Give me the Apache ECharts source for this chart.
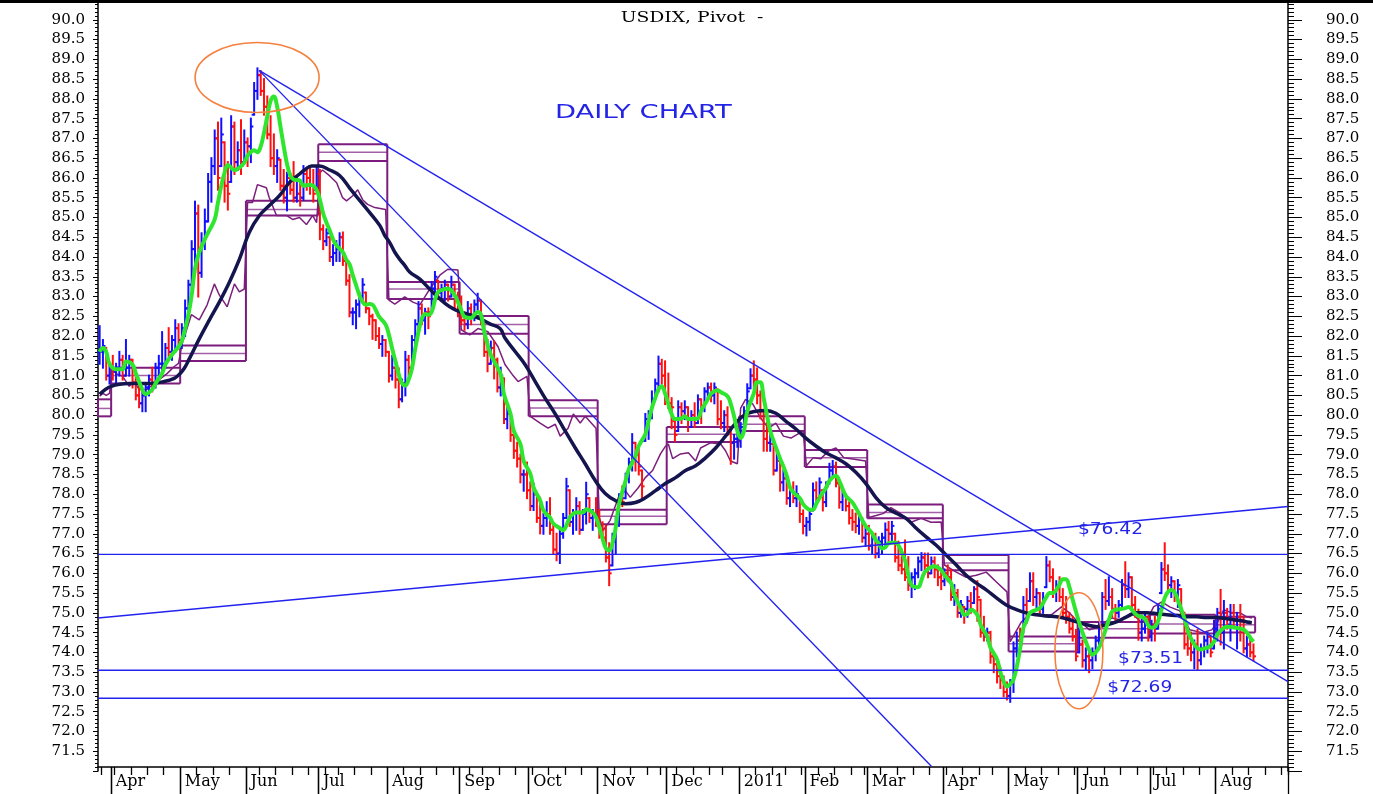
<!DOCTYPE html>
<html>
<head>
<meta charset="utf-8">
<title>USDIX, Pivot</title>
<script src="https://cdn.jsdelivr.net/npm/echarts@6.0.0/dist/echarts.min.js"></script>
<style>
  html, body { margin: 0; padding: 0; background: #fff; }
  #chart { width: 1373px; height: 794px; }
</style>
</head>
<body>
<div id="chart"></div>
<script>
// trading calendar: first bar, holidays, total slots (last 10 are empty)
const startDate = '2010-03-26'
const slotCount = 362
const holidays = ['2010-04-02', '2010-05-31', '2010-07-05', '2010-09-06', '2010-11-25', '2010-12-24',
  '2011-01-17', '2011-02-21', '2011-04-22', '2011-05-30', '2011-07-04']
const monthNames = ['Jan', 'Feb', 'Mar', 'Apr', 'May', 'Jun', 'Jul', 'Aug', 'Sep', 'Oct', 'Nov', 'Dec']

// daily bars, one line per month (Mar 2010 .. Aug 2011)
const highs = [
  82.25, 81.9, 81.7, 81.3,
  81.5, 81.3, 81.6, 81.5, 81.9, 81.5, 81.4, 81.0, 80.8, 80.6, 80.8, 81.0, 81.2, 81.3, 81.5, 82.1, 81.8, 82.2, 82.0, 82.4, 82.3,
  82.3, 82.9, 83.4, 84.4, 85.4, 85.3, 84.6, 85.2, 86.1, 86.5, 87.2, 87.4, 87.5, 86.9, 86.4, 87.56, 87.4, 86.9, 87.46, 87.2,
  87.0, 87.5, 88.4, 88.77, 88.7, 88.5, 88.06, 87.56, 87.1, 86.7, 86.46, 86.2, 86.13, 86.1, 86.4, 86.0, 85.9, 86.3, 86.2, 86.3, 86.2, 86.3,
  86.2, 84.8, 84.7, 84.5, 84.3, 84.4, 84.6, 84.62, 83.9, 83.54, 82.7, 82.9, 83.1, 83.44, 83.1, 82.7, 82.54, 82.4, 82.2, 82.0, 81.9,
  81.6, 81.5, 81.2, 81.18, 80.9, 81.6, 81.5, 82.0, 82.4, 82.86, 82.8, 82.69, 82.7, 83.37, 83.62, 83.4, 83.3, 83.4, 83.3, 83.5, 83.3, 83.1,
  83.0, 82.6, 82.86, 82.8, 82.9, 83.07, 82.9, 82.36, 81.9, 81.86, 81.86, 81.43, 81.2, 80.93, 80.28, 80.03, 79.6, 79.3, 79.0, 78.6, 78.8,
  78.3, 78.27, 78.0, 77.91, 77.5, 77.8, 77.9, 77.26, 77.0, 77.16, 77.5, 78.39, 78.1, 77.6, 77.9, 77.8, 77.6, 78.29, 77.9, 77.6, 77.9,
  77.6, 77.29, 77.2, 76.76, 77.0, 77.41, 78.0, 78.2, 78.52, 78.9, 79.52, 79.3, 79.2, 78.6, 80.03, 80.1, 80.6, 80.9, 81.48, 81.4, 81.36,
  81.05, 80.43, 79.85, 80.35, 80.3, 80.35, 80.2, 80.1, 80.3, 80.5, 80.4, 80.68, 80.8, 80.8, 80.8, 80.65, 80.35, 80.1, 80.2, 79.6, 79.5, 79.7,
  79.8, 80.2, 80.78, 81.16, 81.36, 81.18, 80.6, 80.1, 79.8, 79.6, 79.27, 79.1, 78.84, 78.6, 78.47, 78.2, 78.3, 78.2, 77.9, 77.59,
  77.4, 77.6, 78.27, 78.3, 78.4, 78.1, 78.3, 78.77, 78.84, 78.8, 78.27, 78.1, 78.0, 77.79, 77.6, 77.51, 77.5, 77.4, 77.2,
  77.2, 77.0, 77.0, 76.91, 77.0, 77.26, 77.3, 77.3, 77.0, 76.8, 76.6, 76.83, 76.41, 76.0, 76.1, 76.4, 76.51, 76.5, 76.5, 76.4, 76.4, 76.2, 76.1,
  76.1, 76.2, 76.08, 75.7, 75.58, 75.3, 75.15, 75.4, 75.5, 75.65, 75.8, 75.33, 74.9, 74.6, 74.52, 74.0, 73.82, 73.6, 73.39, 73.24,
  73.3, 74.25, 74.5, 74.6, 75.4, 75.6, 76.0, 76.0, 75.6, 75.5, 75.5, 76.41, 76.3, 76.1, 75.8, 75.9, 75.6, 75.4, 75.0, 74.9, 74.57,
  74.6, 74.3, 74.1, 74.0, 74.1, 74.4, 74.75, 75.5, 75.83, 75.9, 75.6, 75.2, 75.3, 75.83, 76.28, 76.0, 75.9, 75.4, 75.08, 74.9, 75.0, 74.9,
  74.8, 74.9, 75.2, 76.26, 76.76, 76.2, 75.9, 75.8, 75.83, 75.6, 75.0, 74.6, 74.5, 74.3, 74.57, 74.2, 74.4, 74.5, 74.4, 74.8,
  75.1, 75.58, 75.3, 75.1, 75.2, 75.2, 75.0, 75.2, 74.9, 74.4, 74.4, 74.2
]
const lows = [
  81.3, 81.2, 80.9, 80.8,
  80.9, 80.8, 81.0, 80.9, 81.0, 81.0, 80.7, 80.4, 80.2, 80.1, 80.1, 80.5, 80.6, 80.7, 81.0, 81.1, 81.2, 81.5, 81.4, 81.6, 81.7,
  81.7, 82.0, 82.5, 83.2, 83.8, 83.0, 83.5, 84.2, 84.9, 85.4, 86.1, 85.7, 86.3, 85.4, 85.2, 85.9, 86.1, 86.2, 86.1, 86.4,
  86.3, 86.4, 87.6, 88.0, 88.1, 87.6, 87.0, 86.3, 86.1, 85.9, 85.7, 85.38, 85.18, 85.6, 85.4, 85.4, 85.3, 85.45, 85.7, 85.6, 85.4, 85.7,
  84.45, 84.2, 84.3, 83.9, 83.8, 83.9, 83.9, 83.8, 83.3, 82.5, 82.3, 82.2, 82.5, 82.86, 82.6, 82.3, 81.93, 81.9, 81.7, 81.5, 81.5,
  80.85, 80.9, 80.7, 80.2, 80.35, 80.5, 81.0, 81.1, 81.8, 82.19, 82.3, 82.06, 82.2, 82.6, 83.0, 82.95, 82.9, 82.9, 82.9, 83.0, 82.7, 82.5,
  82.3, 82.16, 82.2, 82.3, 82.4, 82.61, 82.3, 81.5, 81.11, 81.3, 80.93, 80.6, 80.5, 79.8, 79.67, 79.35, 78.92, 78.7, 78.3, 78.09, 77.9,
  77.6, 77.6, 77.3, 77.01, 77.0, 77.2, 77.0, 76.5, 76.33, 76.26, 76.9, 77.4, 77.2, 77.0, 77.1, 77.0, 77.1, 77.26, 77.3, 77.1, 77.2,
  76.9, 76.83, 76.3, 75.7, 76.2, 76.51, 77.2, 77.7, 77.9, 78.3, 78.6, 78.6, 78.5, 77.91, 79.35, 79.4, 79.92, 80.4, 80.6, 80.8, 80.28,
  80.18, 79.67, 79.35, 79.6, 79.8, 79.9, 79.6, 79.7, 79.7, 79.8, 79.8, 80.1, 80.43, 80.35, 80.3, 79.77, 79.67, 79.6, 79.5, 78.77, 78.9, 79.2,
  79.2, 79.6, 80.03, 80.68, 80.68, 80.3, 79.92, 79.1, 79.1, 79.1, 78.5, 78.6, 78.09, 78.1, 77.76, 77.7, 77.8, 77.7, 77.3, 77.01,
  76.96, 77.1, 77.59, 77.8, 77.9, 77.59, 77.7, 78.27, 78.42, 78.2, 77.66, 77.6, 77.59, 77.26, 77.1, 77.04, 77.0, 76.8, 76.7,
  76.6, 76.5, 76.4, 76.41, 76.5, 76.66, 76.8, 76.8, 76.3, 76.08, 76.0, 75.83, 75.58, 75.4, 75.6, 75.9, 76.08, 76.0, 75.9, 76.0, 75.9, 75.7, 75.6,
  75.7, 75.8, 75.33, 75.2, 74.9, 74.9, 74.75, 74.9, 75.0, 75.25, 74.8, 74.4, 74.3, 74.3, 73.74, 73.5, 73.24, 73.1, 72.89, 72.81,
  72.75, 73.0, 73.9, 74.1, 74.5, 74.75, 75.3, 75.2, 75.1, 75.0, 75.0, 75.65, 75.8, 75.4, 75.3, 75.3, 74.9, 74.75, 74.5, 74.3, 73.8,
  74.0, 73.64, 73.57, 73.5, 73.6, 73.8, 74.1, 74.7, 75.1, 75.2, 74.9, 74.8, 74.9, 75.15, 75.4, 75.4, 75.1, 74.9, 74.32, 74.3, 74.5, 74.3,
  74.3, 74.3, 74.6, 75.5, 75.83, 75.6, 75.4, 75.3, 75.15, 74.9, 74.1, 73.94, 73.8, 73.6, 73.57, 73.7, 73.9, 74.0, 73.9, 74.1,
  74.3, 74.2, 74.1, 74.6, 74.3, 74.7, 74.1, 74.3, 74.0, 73.9, 73.9, 73.8
]
const closes = [
  81.6, 81.75, 81.0, 81.2,
  81.1, 81.2, 81.4, 81.0, 81.2, 81.4, 80.8, 80.5, 80.3, 80.5, 80.7, 80.9, 80.8, 81.2, 81.3, 81.3, 81.7, 81.6, 81.9, 82.2, 81.9,
  82.2, 82.7, 83.3, 84.2, 85.1, 83.6, 84.4, 84.9, 85.9, 86.3, 87.0, 86.0, 87.1, 85.8, 85.6, 87.3, 86.4, 86.7, 86.3, 86.9,
  86.8, 87.3, 88.2, 88.6, 88.2, 87.8, 87.1, 86.5, 86.3, 86.5, 85.8, 85.5, 86.0, 85.7, 85.5, 85.6, 85.5, 86.1, 86.0, 85.8, 85.6, 86.1,
  84.7, 84.4, 84.6, 84.0, 84.1, 84.2, 84.5, 83.9, 83.4, 82.6, 82.6, 82.8, 83.0, 83.3, 82.7, 82.5, 82.4, 82.0, 81.8, 81.9, 81.6,
  81.0, 81.2, 80.9, 80.4, 80.8, 81.4, 81.2, 81.9, 82.3, 82.7, 82.4, 82.6, 82.5, 83.2, 83.5, 83.1, 83.2, 83.3, 83.0, 83.3, 82.9, 82.7,
  82.4, 82.3, 82.7, 82.5, 82.8, 82.9, 82.4, 81.6, 81.3, 81.7, 81.4, 80.7, 81.0, 79.9, 80.1, 79.5, 79.1, 78.9, 78.5, 78.5, 78.1,
  77.7, 78.0, 77.4, 77.2, 77.4, 77.5, 77.1, 76.6, 76.5, 77.0, 77.4, 78.2, 77.3, 77.5, 77.7, 77.1, 77.5, 78.0, 77.4, 77.5, 77.3,
  77.0, 76.9, 76.4, 76.0, 76.8, 77.3, 77.9, 77.8, 78.4, 78.8, 79.3, 79.0, 78.7, 78.2, 79.9, 80.0, 80.4, 80.8, 81.3, 81.0, 80.4,
  80.3, 80.2, 79.5, 80.2, 80.1, 80.2, 79.7, 80.0, 79.8, 80.4, 80.2, 80.6, 80.7, 80.5, 80.7, 79.9, 79.8, 80.0, 79.6, 79.3, 79.4, 79.6,
  79.7, 80.1, 80.6, 81.0, 80.9, 80.5, 80.1, 79.4, 79.3, 79.5, 78.6, 79.0, 78.3, 78.4, 77.9, 78.1, 77.9, 78.0, 77.5, 77.2,
  77.3, 77.5, 78.1, 77.9, 78.3, 77.8, 78.2, 78.6, 78.7, 78.3, 77.8, 78.0, 77.7, 77.4, 77.3, 77.2, 77.4, 76.9, 77.0,
  76.7, 76.9, 76.5, 76.8, 76.9, 77.1, 77.0, 77.2, 76.4, 76.2, 76.1, 75.9, 75.7, 75.9, 76.0, 76.3, 76.4, 76.2, 76.0, 76.3, 76.1, 75.9, 75.8,
  76.0, 75.9, 75.4, 75.5, 75.0, 75.2, 75.1, 75.3, 75.1, 75.6, 75.4, 74.5, 74.4, 74.5, 73.9, 73.7, 73.4, 73.3, 73.0, 72.9,
  73.2, 74.1, 74.3, 74.2, 75.2, 74.9, 75.8, 75.4, 75.5, 75.1, 75.3, 76.2, 75.9, 75.5, 75.6, 75.4, 75.0, 74.9, 74.6, 74.4, 73.9,
  74.2, 73.8, 73.9, 73.8, 74.0, 74.3, 74.6, 75.4, 75.3, 75.4, 75.1, 75.0, 75.2, 75.7, 75.6, 75.9, 75.2, 75.0, 74.5, 74.6, 74.9, 74.4,
  74.7, 74.6, 75.1, 76.1, 76.0, 75.7, 75.8, 75.4, 75.7, 75.0, 74.2, 74.1, 74.0, 74.2, 73.8, 74.1, 74.3, 74.4, 74.0, 74.6,
  75.0, 74.5, 75.0, 74.7, 75.0, 74.8, 74.9, 74.8, 74.1, 74.2, 74.0, 73.9
]

// green fast average [bar, value]
const fastLine = [
  [0, 81.6], [1, 81.7], [2, 81.6], [3, 81.3], [5, 81.16], [7, 81.16], [8, 81.36], [10, 81.28], [11, 81.06], [13, 80.65],
  [14, 80.53], [16, 80.65], [17, 80.8], [19, 81.06], [20, 81.28], [22, 81.53], [24, 81.73], [25, 81.88], [26, 82.19], [27, 82.54],
  [28, 83.04], [29, 83.7], [30, 84.05], [32, 84.45], [33, 84.62], [35, 84.95], [36, 85.38], [37, 85.8], [38, 86.13], [39, 86.33],
  [41, 86.2], [42, 86.23], [44, 86.38], [45, 86.56], [47, 86.7], [48, 86.65], [49, 86.8], [50, 87.14], [51, 87.56], [52, 87.95],
  [53, 88.06], [54, 87.8], [55, 87.3], [56, 86.8], [57, 86.35], [58, 86.06], [59, 85.96], [61, 85.93], [62, 85.8], [64, 85.83],
  [65, 85.8], [66, 85.7], [67, 85.45], [68, 85.1], [69, 84.87], [70, 84.67], [71, 84.45], [72, 84.3], [74, 84.12], [75, 83.94],
  [76, 83.82], [77, 83.54], [78, 83.29], [79, 83.04], [80, 82.86], [81, 82.79], [82, 82.81], [83, 82.79], [84, 82.66], [85, 82.49],
  [87, 82.29], [88, 82.03], [89, 81.68], [90, 81.36], [91, 81.03], [92, 80.8], [93, 80.75], [94, 80.9], [95, 81.18], [96, 81.68],
  [97, 82.11], [98, 82.44], [99, 82.56], [100, 82.54], [101, 82.61], [102, 82.91], [103, 83.12], [105, 83.19], [106, 83.2], [108, 83.04],
  [109, 82.86], [110, 82.66], [111, 82.49], [113, 82.46], [114, 82.54], [115, 82.61], [116, 82.54], [117, 82.11], [118, 81.78], [119, 81.53],
  [120, 81.36], [122, 81.03], [123, 80.53], [125, 80.03], [126, 79.6], [128, 79.27], [129, 78.84], [131, 78.52], [132, 78.17], [134, 77.84],
  [135, 77.59], [137, 77.41], [138, 77.26], [140, 77.14], [141, 77.09], [142, 77.21], [143, 77.41], [145, 77.54], [147, 77.54], [148, 77.62],
  [150, 77.54], [151, 77.41], [152, 77.16], [153, 76.88], [154, 76.63], [155, 76.58], [156, 76.76], [157, 77.16], [158, 77.75], [160, 78.34],
  [161, 78.64], [162, 78.79], [163, 78.97], [164, 79.22], [166, 79.52], [167, 79.85], [168, 80.18], [169, 80.43], [170, 80.65], [171, 80.73],
  [172, 80.55], [173, 80.28], [174, 80.03], [175, 79.9], [177, 79.92], [178, 79.97], [179, 79.9], [180, 79.9], [182, 79.92], [183, 80.12],
  [185, 80.4], [186, 80.55], [188, 80.63], [189, 80.58], [191, 80.48], [192, 80.28], [193, 79.97], [194, 79.6], [195, 79.42], [196, 79.6],
  [197, 80.1], [199, 80.55], [200, 80.83], [201, 80.83], [202, 80.43], [203, 80.0], [204, 79.6], [206, 79.12], [207, 78.9], [208, 78.7],
  [209, 78.47], [210, 78.17], [211, 78.05], [213, 77.9], [214, 77.75], [215, 77.66], [216, 77.61], [217, 77.61], [218, 77.76], [219, 77.91],
  [220, 78.04], [221, 78.17], [222, 78.34], [224, 78.47], [225, 78.34], [226, 78.14], [227, 77.96], [229, 77.79], [230, 77.66], [231, 77.51],
  [232, 77.34], [233, 77.2], [235, 77.01], [236, 76.85], [237, 76.76], [238, 76.63], [239, 76.66], [240, 76.76], [242, 76.78], [243, 76.71],
  [244, 76.53], [245, 76.33], [246, 75.95], [247, 75.7], [249, 75.65], [250, 75.83], [251, 76.03], [253, 76.16], [254, 76.18], [256, 76.08],
  [257, 75.95], [259, 75.75], [260, 75.45], [262, 75.12], [263, 74.95], [264, 74.97], [265, 75.08], [267, 74.95], [268, 74.7], [270, 74.4],
  [271, 74.12], [273, 73.82], [274, 73.5], [275, 73.27], [276, 73.14], [277, 73.19], [278, 73.32], [279, 73.64], [280, 74.1], [281, 74.62],
  [282, 74.8], [283, 75.0], [285, 75.08], [286, 75.12], [287, 75.25], [288, 75.4], [289, 75.5], [290, 75.5], [291, 75.58], [292, 75.72],
  [293, 75.85], [294, 75.85], [295, 75.65], [296, 75.33], [297, 75.03], [298, 74.75], [299, 74.5], [300, 74.27], [301, 74.07], [302, 73.94],
  [303, 74.0], [304, 74.12], [305, 74.32], [306, 74.57], [307, 74.82], [308, 75.03], [309, 75.08], [311, 75.1], [312, 75.12], [313, 75.15],
  [314, 75.08], [315, 74.98], [316, 74.92], [317, 74.9], [318, 74.85], [319, 74.68], [320, 74.62], [321, 74.65], [322, 74.8], [323, 75.08],
  [324, 75.38], [325, 75.53], [326, 75.58], [327, 75.52], [328, 75.32], [329, 75.1], [330, 74.85], [331, 74.55], [332, 74.35], [333, 74.2],
  [334, 74.1], [335, 74.07], [336, 74.1], [337, 74.12], [338, 74.17], [339, 74.27], [340, 74.45], [341, 74.55], [342, 74.62], [343, 74.65],
  [344, 74.65], [345, 74.63], [346, 74.62], [347, 74.6], [348, 74.58], [349, 74.5], [350, 74.37], [351, 74.27]
]

// dark slow average [bar, value]
const slowLine = [
  [0, 80.53], [3.5, 80.73], [9, 80.8], [15, 80.8], [19.6, 80.85], [22.7, 80.93], [24.2, 81.03], [25.7, 81.18], [27.3, 81.43], [30.3, 81.93],
  [33.4, 82.41], [36.4, 82.86], [39.5, 83.37], [42.5, 83.94], [45.5, 84.62], [48.6, 85.05], [51.6, 85.3], [54.7, 85.55], [57.7, 85.88], [60.8, 86.1],
  [62.3, 86.2], [64.5, 86.3], [66.9, 86.3], [70, 86.2], [73, 86.06], [76, 85.75], [79.1, 85.43], [82.1, 85.13], [85.2, 84.8], [86.7, 84.55],
  [88.2, 84.37], [89.8, 84.12], [91.3, 83.94], [92.8, 83.79], [94.3, 83.62], [97.4, 83.44], [100.4, 83.19], [103.5, 82.94], [106.5, 82.74], [109.6, 82.61],
  [112.6, 82.54], [115.7, 82.44], [118.7, 82.31], [121.8, 82.19], [123.3, 81.95], [126.4, 81.61], [129.4, 81.28], [132.5, 80.85], [135.5, 80.43], [138.6, 80.03],
  [141.6, 79.6], [144.7, 79.17], [147.7, 78.77], [150.8, 78.34], [153.8, 78.02], [156.9, 77.84], [159.9, 77.76], [163, 77.79], [166, 77.91], [169.1, 78.09],
  [172.1, 78.27], [175.2, 78.42], [178.2, 78.6], [181.3, 78.72], [184.3, 78.92], [187.4, 79.17], [190.4, 79.47], [193.5, 79.8], [196.5, 80.02], [199.6, 80.1],
  [202.6, 80.12], [205.7, 80.05], [208.7, 79.85], [211.8, 79.65], [214.8, 79.42], [217.9, 79.22], [220.9, 79.05], [224, 78.92], [227, 78.77], [230.1, 78.55],
  [233.1, 78.27], [236.2, 77.91], [239.2, 77.66], [242.3, 77.52], [245.3, 77.39], [248.4, 77.14], [251.4, 76.92], [254.5, 76.71], [257.5, 76.46], [260.6, 76.21],
  [263.6, 75.95], [266.7, 75.75], [269.7, 75.58], [272.8, 75.38], [275.8, 75.2], [278.9, 75.08], [281.9, 75.0], [285, 74.95], [288, 74.92], [291.1, 74.9],
  [294.1, 74.85], [297.2, 74.77], [300.2, 74.7], [303.3, 74.65], [306.3, 74.7], [309.3, 74.77], [312.4, 74.9], [315.5, 75.0], [318.5, 75.0], [321.6, 74.98],
  [324.6, 74.95], [327.7, 74.93], [330.7, 74.9], [333.8, 74.9], [336.8, 74.88], [339.9, 74.88], [342.9, 74.85], [346, 74.82], [349, 74.77], [350.5, 74.75]
]

// thin purple pivot line [bar, value]
const pivotLine = [
  [0, 80.48], [1, 80.55], [2, 80.5], [3, 80.55], [4, 81.18], [5, 81.05], [7, 80.98], [9, 80.73], [10.5, 80.85], [12, 80.65],
  [14.4, 80.65], [16.6, 80.8], [18.1, 80.9], [20.5, 81.05], [22.7, 81.23], [24, 81.31],
  [25, 81.78], [27.9, 82.54], [30.3, 82.41], [32.7, 82.79], [34.9, 83.32], [36.4, 83.04], [38.8, 82.74], [41, 83.32], [42.5, 83.12], [44, 83.19],
  [45, 85.38], [46.5, 85.38], [48, 85.83], [50.7, 85.75], [51.6, 85.5], [53.8, 85.05], [56.8, 85.05], [58.7, 84.95], [60.8, 85.0], [62.9, 84.82], [64.8, 85.05], [66, 84.87],
  [67, 86.13], [67.8, 86.2], [70, 86.05], [72.1, 85.88], [73.9, 85.5], [75.1, 85.42], [77, 85.55], [78.5, 85.7], [80, 85.45], [81.5, 85.33], [83.7, 85.25], [87, 85.2],
  [88, 82.91], [89.8, 82.81], [92.8, 82.99], [95.3, 82.86], [97.4, 82.79], [100.4, 83.19], [103.5, 83.54], [105.9, 83.69], [109, 83.67],
  [110, 82.16], [112.6, 82.03], [115.1, 82.19], [118.1, 82.11], [121.2, 81.73], [123.3, 81.28], [125.5, 81.03], [127.3, 80.85], [130, 80.98],
  [131, 79.97], [134, 79.8], [136.4, 79.67], [138.6, 79.77], [140.1, 79.47], [142.5, 79.67], [144.1, 80.03], [146.2, 79.8], [147.7, 79.97], [151, 79.67],
  [152, 77.41], [153.2, 77.09], [155.3, 77.34], [157.8, 77.92], [159.9, 78.09], [161.4, 77.92], [163.9, 78.17], [166, 78.42], [168.2, 78.6], [170.6, 79.02], [172, 79.2],
  [173, 79.27], [174.3, 78.9], [176.7, 79.02], [179.1, 79.05], [181.3, 78.84], [182.8, 79.17], [185.8, 79.3], [188.9, 79.27], [190.4, 79.1], [191.9, 78.84], [194, 78.77],
  [195, 80.18], [196.5, 80.4], [198.7, 80.28], [201.1, 79.92], [203.5, 79.67], [205.7, 79.8], [208, 79.47], [210.3, 79.42], [214, 79.6],
  [215, 78.72], [217, 78.92], [219.4, 78.9], [221.8, 79.1], [224, 79.17], [226.4, 78.92], [228.6, 78.9], [233, 78.84],
  [234, 77.41], [236.2, 77.46], [238.3, 77.51], [240.7, 77.66], [243.5, 77.52], [246.8, 77.29], [249.9, 77.39], [252.9, 77.29], [256, 77.3],
  [257, 76.21], [260.6, 76.03], [263.6, 75.9], [266.7, 75.95], [269.7, 76.03], [272.8, 75.78], [276, 75.53],
  [277, 74.27], [280.4, 74.77], [283.4, 75.0], [286.5, 74.95], [289.5, 74.95], [292.6, 75.15], [295, 75.0], [297, 74.82],
  [298.7, 74.75], [301.1, 74.57], [303.3, 74.62], [304.8, 74.7], [307.8, 74.87], [310.9, 74.82], [313.9, 75.0], [317, 74.75], [319.4, 74.95],
  [320.6, 75.15], [323.1, 75.28], [325.5, 75.15], [328.6, 75.05], [331.6, 74.57], [335.3, 74.5], [338.3, 74.57],
  [340, 74.75], [342, 75.08], [344.4, 75.0], [346.9, 75.0], [349, 74.9], [350.5, 74.87]
]

// monthly pivot boxes, Mar 2010 .. Aug 2011
const pivotTop = [80.4, 81.2, 81.76, 85.42, 86.85, 83.37, 82.51, 80.38, 77.61, 79.7, 79.97, 79.12, 77.74, 76.46, 74.4, 74.77, 74.95, 74.9]
const pivotMid = [80.17, 81.0, 81.56, 85.2, 86.65, 83.19, 82.29, 80.18, 77.44, 79.52, 79.77, 78.92, 77.54, 76.26, 74.22, 74.6, 74.72, 74.7]
const pivotBot = [79.97, 80.8, 81.37, 85.05, 86.43, 82.94, 82.06, 79.97, 77.24, 79.32, 79.6, 78.69, 77.39, 76.08, 74.02, 74.37, 74.48, 74.5]

// trend lines [bar, value]
const trendSteep = [[48.5, 88.72], [253, 71.12]]
const trendUpper = [[48.5, 88.72], [361.5, 73.26]]
const trendRising = [[-0.5, 74.87], [361.5, 77.69]]
const levels = [76.48, 73.55, 72.84]

// annotations
const noteText = ['$76.42', '$73.51', '$72.69']
const noteAt = [[297.6, 77.09], [309.8, 73.84], [306.5, 73.09]]
const rings = [{ at: [47.9, 88.54], rx: 62, ry: 35 }, { at: [297.9, 74.04], rx: 24, ry: 58 }]

function tradingDays() {
  const out = []
  const d = new Date(startDate + 'T00:00:00Z')
  while (out.length < slotCount) {
    const wd = d.getUTCDay()
    const s = d.toISOString().slice(0, 10)
    if (wd !== 0 && wd !== 6 && holidays.indexOf(s) < 0) out.push(s)
    d.setUTCDate(d.getUTCDate() + 1)
  }
  return out
}

const days = tradingDays()
const dow = s => new Date(s + 'T00:00:00Z').getUTCDay()
const monthStart = days.map((d, i) => i > 0 && d.slice(0, 7) !== days[i - 1].slice(0, 7))
const weekStart = days.map((d, i) => i > 0 && dow(d) < dow(days[i - 1]))
const monthEdges = []
const weekEdges = []
days.forEach((d, i) => {
  if (monthStart[i]) monthEdges.push(i - 0.5)
  else if (weekStart[i]) weekEdges.push(i - 0.5)
})
weekEdges.push(slotCount - 0.5)

const starts = [0]
for (let i = 1; i < closes.length; i++) if (monthStart[i]) starts.push(i)
const boxes = pivotTop.map((t, k) => [
  starts[k],
  k < starts.length - 1 ? starts[k + 1] - 1 : closes.length - 1,
  t, pivotMid[k], pivotBot[k],
  k ? pivotTop[k - 1] : t,
  k ? pivotBot[k - 1] : pivotBot[k],
  k === pivotTop.length - 1 ? 1 : 0
])
const bars = closes.map((c, i) => [i, i ? closes[i - 1] : c, c, lows[i], highs[i]])

const seg = (x1, y1, x2, y2, style) => ({ type: 'line', shape: { x1, y1, x2, y2 }, style })

function renderBar(params, api) {
  const i = api.value(0)
  const c = api.value(2), l = api.value(3), h = api.value(4)
  const o = Math.min(h, Math.max(l, api.value(1)))
  const top = api.coord([i, h]), bot = api.coord([i, l])
  const yo = api.coord([i, o])[1], yc = api.coord([i, c])[1]
  const color = c >= api.value(1) ? '#1010ff' : '#ff1010'
  const st = { stroke: color, lineWidth: 2 }
  return {
    type: 'group',
    children: [
      seg(top[0], top[1] - 1, bot[0], bot[1] + 1, st),
      seg(top[0] - 2.5, yo, top[0], yo, st),
      seg(top[0], yc, top[0] + 2.5, yc, st)
    ]
  }
}

function renderBox(params, api) {
  const s = api.value(0), e = api.value(1)
  const x0 = api.coord([s - 0.5, 80])[0], x1 = api.coord([e + 0.5, 80])[0]
  const y = v => api.coord([s, v])[1]
  const t = api.value(2), m = api.value(3), b = api.value(4)
  const hi = Math.max(t, api.value(5)), lo = Math.min(b, api.value(6))
  const outer = { stroke: '#7c1c7e', lineWidth: 2 }
  const inner = { stroke: '#a261a6', lineWidth: 1.5 }
  const children = [
    seg(x0, y(t), x1, y(t), outer),
    seg(x0, y(m), x1, y(m), inner),
    seg(x0, y(b), x1, y(b), outer),
    seg(x0, y(hi), x0, y(lo), outer)
  ]
  if (api.value(7)) children.push(seg(x1, y(t), x1, y(b), outer))
  return { type: 'group', children }
}

const serif = 'DejaVu Serif'
const yAxisBase = {
  type: 'value',
  min: 71,
  max: 90.5,
  interval: 0.5,
  splitLine: { show: false },
  axisLine: { show: true, onZero: false, lineStyle: { color: '#000', width: 1.5 } },
  axisLabel: {
    color: '#000',
    fontFamily: serif,
    fontSize: 15,
    showMinLabel: false,
    showMaxLabel: false,
    formatter: v => v.toFixed(1)
  }
}
const tickAxis = (values, length) => ({
  type: 'value',
  min: -0.5,
  max: slotCount - 0.5,
  position: 'bottom',
  offset: -4,
  axisLine: { show: false, onZero: false },
  axisLabel: { show: false },
  splitLine: { show: false },
  axisTick: { show: true, customValues: values, length, lineStyle: { color: '#000', width: 1.3 } }
})
const lineSeries = (data, color, width, z, extra) => Object.assign({
  type: 'line',
  xAxisIndex: 2,
  yAxisIndex: 0,
  data,
  showSymbol: false,
  symbol: 'none',
  silent: true,
  z,
  lineStyle: { color, width }
}, extra || {})

const chart = echarts.init(document.getElementById('chart'))
chart.setOption({
  animation: false,
  backgroundColor: '#fff',
  grid: { left: 98, right: 85, top: -3.87, bottom: 23 },
  xAxis: [
    {
      type: 'category',
      data: days,
      position: 'bottom',
      offset: -4,
      axisLine: { onZero: false, lineStyle: { color: '#000', width: 1.5 } },
      axisTick: { show: true, interval: i => monthStart[i], length: 30, lineStyle: { color: '#000', width: 1.3 } },
      axisLabel: {
        interval: i => monthStart[i],
        align: 'left',
        margin: 7,
        padding: [0, 0, 0, 3],
        color: '#000',
        fontFamily: serif,
        fontSize: 16,
        formatter: v => {
          const m = +v.slice(5, 7)
          return m === 1 ? v.slice(0, 4) : monthNames[m - 1]
        }
      },
      splitLine: { show: false }
    },
    tickAxis(weekEdges, 8),
    { type: 'value', min: -0.5, max: slotCount - 0.5, show: false, position: 'bottom' },
    tickAxis(monthEdges, 30)
  ],
  yAxis: [
    Object.assign({}, yAxisBase, {
      position: 'left',
      axisTick: { show: true, length: 5, lineStyle: { color: '#000' } },
      minorTick: { show: true, splitNumber: 5, length: 3, lineStyle: { color: '#000' } },
      axisLabel: Object.assign({}, yAxisBase.axisLabel, { margin: 13 })
    }),
    Object.assign({}, yAxisBase, {
      position: 'right',
      axisTick: { show: true, length: 14, lineStyle: { color: '#000' } },
      minorTick: { show: true, splitNumber: 5, length: 6, lineStyle: { color: '#000' } },
      axisLabel: Object.assign({}, yAxisBase.axisLabel, { margin: 38 })
    })
  ],
  series: [
    {
      type: 'custom',
      xAxisIndex: 2,
      yAxisIndex: 0,
      renderItem: renderBox,
      data: boxes,
      encode: { x: 0, y: 2 },
      silent: true,
      z: 2
    },
    lineSeries(pivotLine, '#7b1e7d', 1.5, 3),
    {
      type: 'custom',
      xAxisIndex: 2,
      yAxisIndex: 0,
      renderItem: renderBar,
      data: bars,
      encode: { x: 0, y: [3, 4] },
      silent: true,
      z: 4
    },
    lineSeries(slowLine, '#14144e', 3.5, 5, { smooth: 0.4 }),
    lineSeries(fastLine, '#2ee62e', 4, 6, { smooth: 0.4 }),
    lineSeries(trendSteep, '#2323f0', 1.4, 7),
    lineSeries(trendUpper, '#2323f0', 1.4, 7),
    lineSeries(trendRising, '#2323f0', 1.4, 7),
    ...levels.map(v => lineSeries([[-0.5, v], [slotCount - 0.5, v]], '#2323f0', 1.4, 7))
  ]
})

const px = p => chart.convertToPixel({ xAxisIndex: 2, yAxisIndex: 0 }, p)
const graphics = [
  { type: 'line', shape: { x1: 0, y1: 1.5, x2: 1373, y2: 1.5 }, style: { stroke: '#000', lineWidth: 3 }, z: 20 },
  {
    type: 'text', x: 692, y: 18, scaleX: 1.25, z: 20,
    style: { text: 'USDIX, Pivot  -', font: '15px "DejaVu Serif"', fill: '#000', align: 'center', verticalAlign: 'middle' }
  },
  {
    type: 'text', x: 555, y: 113, scaleX: 1.37, z: 20,
    style: { text: 'DAILY CHART', font: '20px "DejaVu Sans"', fill: '#2424e6', verticalAlign: 'middle' }
  }
]
rings.forEach(r => {
  const c = px(r.at)
  graphics.push({
    type: 'ellipse', z: 20,
    shape: { cx: c[0], cy: c[1], rx: r.rx, ry: r.ry },
    style: { fill: 'none', stroke: '#f5813f', lineWidth: 1.6 }
  })
})
noteText.forEach((t, k) => {
  const p = px(noteAt[k])
  graphics.push({
    type: 'text', x: p[0], y: p[1], scaleX: 1.24, z: 20,
    style: { text: t, font: '15px "DejaVu Sans"', fill: '#2424e6', verticalAlign: 'middle' }
  })
})
chart.setOption({ graphic: graphics })
</script>
</body>
</html>
